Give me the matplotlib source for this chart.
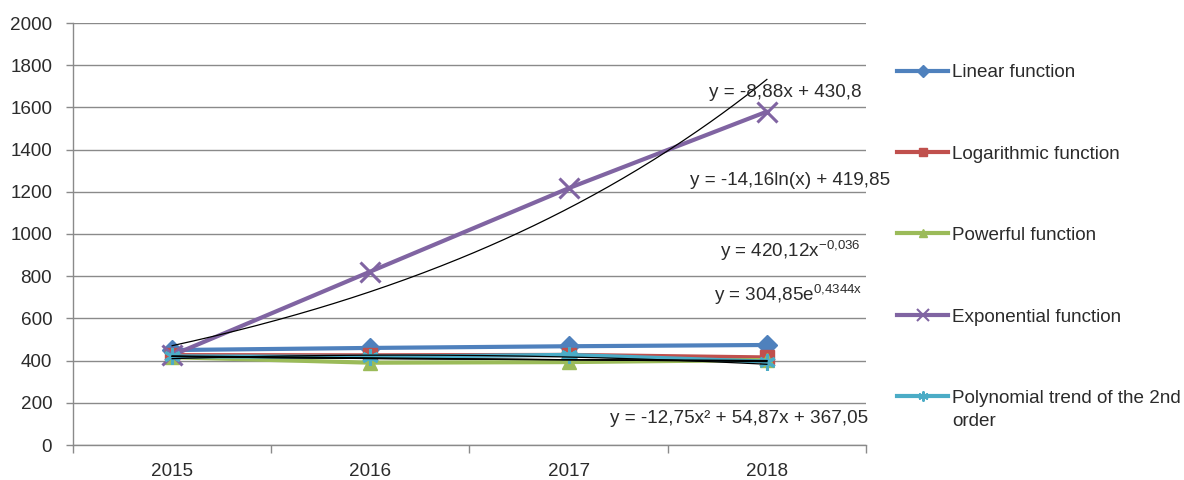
import numpy as np
import matplotlib
matplotlib.use("Agg")
import matplotlib.pyplot as plt
from matplotlib import font_manager
from matplotlib.lines import Line2D


def pick_font(names):
    for name in names:
        try:
            font_manager.findfont(name, fallback_to_default=False)
            return name
        except Exception:
            pass
    return "DejaVu Sans"


FONT = pick_font(["Liberation Sans Narrow", "Liberation Sans", "Arial"])
NARROW = FONT == "Liberation Sans Narrow"
plt.rcParams["font.family"] = [FONT, "DejaVu Sans"]
plt.rcParams["mathtext.fontset"] = "custom"
plt.rcParams["mathtext.rm"] = FONT
plt.rcParams["mathtext.default"] = "regular"

# ---- data -------------------------------------------------------------
years = ["2015", "2016", "2017", "2018"]
linear_vals = [450, 460, 468, 474]
log_vals = [426, 425, 427, 415]
power_vals = [416, 390, 393, 403]
expo_vals = [425, 822, 1217, 1580]
poly_vals = [420, 418, 427, 395]

series_names = ["Linear function", "Logarithmic function", "Powerful function",
                "Exponential function", "Polynomial trend of the 2nd"]

# fitted trend-line coefficients (x = 1..4 along the category axis)
lin_a, lin_b = -8.88, 430.8
log_a, log_b = -14.16, 419.85
pow_a, pow_b = 420.12, -0.036
exp_a, exp_b = 304.85, 0.4344
poly_a, poly_b, poly_c = -12.75, 54.87, 367.05

y_ticks = list(range(0, 2001, 200))

# ---- styling ----------------------------------------------------------
colors = ["#4F81BD", "#C0504D", "#9BBB59", "#8064A2", "#4BACC6"]
markers = ["D", "s", "^", "x", (6, 2, 0)]
msizes = [10, 10.5, 10.5, 14, 12]
FS = 15.5 if NARROW else 13.6
TXT = "#2b2b2b"
GRID = "#8a8a8a"

fig = plt.figure(figsize=(11.84, 4.8), dpi=100)
ax = fig.add_axes([73 / 1184, 35 / 480, (866 - 73) / 1184, 422 / 480])

x = np.arange(1, len(years) + 1)
all_vals = [linear_vals, log_vals, power_vals, expo_vals, poly_vals]
for i, vals in enumerate(all_vals):
    ax.plot(x, vals, color=colors[i], lw=3, marker=markers[i], ms=msizes[i],
            mew=2.2 if i >= 3 else 1, mec=colors[i], mfc=colors[i],
            zorder=3 + i, solid_capstyle="round")

# trend lines
xs = np.linspace(1, 4, 200)
trend_kw = dict(color="black", lw=0.9, zorder=10)
ax.plot(x, lin_a * x + lin_b, **trend_kw)
ax.plot(xs, log_a * np.log(xs) + log_b, **trend_kw)
ax.plot(xs, pow_a * xs ** pow_b, **trend_kw)
ax.plot(xs, exp_a * np.exp(exp_b * xs), **trend_kw)
ax.plot(xs, poly_a * xs ** 2 + poly_b * xs + poly_c, **trend_kw)

# trend-line equations
eq_kw = dict(fontsize=FS, color=TXT, ha="right", va="baseline", zorder=12)
ax.text(4.48, 1651, "y = -8,88x + 430,8", **eq_kw)
ax.text(4.62, 1233, "y = -14,16ln(x) + 419,85", **eq_kw, clip_on=False)
ax.text(4.47, 892, r"y = 420,12x$^{\mathrm{-0{,}036}}$", **eq_kw)
ax.text(4.48, 684, r"y = 304,85e$^{\mathrm{0{,}4344x}}$", **eq_kw)
ax.text(4.51, 104, "y = -12,75x² + 54,87x + 367,05", **eq_kw, clip_on=False)

# axes
ax.set_xlim(0.5, len(years) + 0.5)
ax.set_ylim(0, 2000)
ax.set_yticks(y_ticks)
ax.set_yticklabels([str(v) for v in y_ticks])
ax.yaxis.grid(True, color=GRID, lw=1.0)
ax.set_axisbelow(True)
ax.tick_params(axis="y", length=5, width=1, color=GRID, pad=10,
               labelsize=FS, labelcolor=TXT)

ax.set_xticks(np.arange(0.5, len(years) + 1, 1.0))
ax.set_xticklabels([])
ax.set_xticks(x, minor=True)
ax.set_xticklabels(years, minor=True)
ax.tick_params(axis="x", which="major", length=6, width=1, color=GRID)
ax.tick_params(axis="x", which="minor", length=0, pad=13,
               labelsize=FS, labelcolor=TXT)

for side in ("top", "right"):
    ax.spines[side].set_visible(False)
for side in ("left", "bottom"):
    ax.spines[side].set_color(GRID)
    ax.spines[side].set_linewidth(1.0)

# legend
handles = [Line2D([], [], color=colors[i], lw=3, marker=markers[i],
                  ms=msizes[i] * 0.6, mew=1.5 if i >= 3 else 1,
                  mec=colors[i], mfc=colors[i])
           for i in range(len(series_names))]
leg = ax.legend(handles, series_names, loc="upper left",
                bbox_to_anchor=(897 / 1184, 1 - 64 / 480),
                bbox_transform=fig.transFigure, frameon=False,
                fontsize=FS, handlelength=2.7, handletextpad=0.2,
                labelspacing=3.4, borderpad=0, borderaxespad=0)
for t in leg.get_texts():
    t.set_color(TXT)
fig.text(952 / 1184, 1 - 421 / 480, "order", fontsize=FS, color=TXT,
         ha="left", va="center")

fig.savefig("out.png", dpi=100, facecolor="white")
